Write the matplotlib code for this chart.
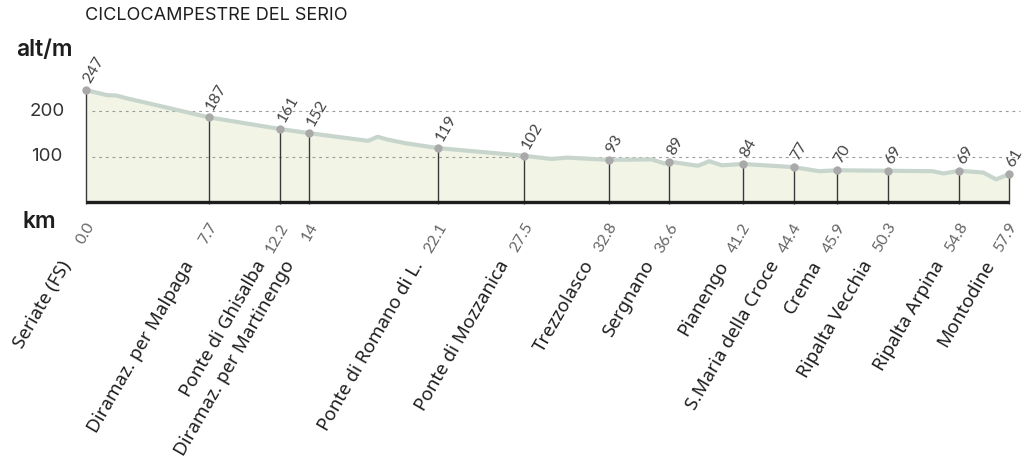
import matplotlib
matplotlib.use("Agg")
import matplotlib.pyplot as plt

# stops along the route
stop_name = ["Seriate (FS)", "Diramaz. per Malpaga", "Ponte di Ghisalba",
             "Diramaz. per Martinengo", "Ponte di Romano di L.", "Ponte di Mozzanica",
             "Trezzolasco", "Sergnano", "Pianengo", "S.Maria della Croce", "Crema",
             "Ripalta Vecchia", "Ripalta Arpina", "Montodine"]
stop_km_label = ["0.0", "7.7", "12.2", "14", "22.1", "27.5", "32.8", "36.6",
                 "41.2", "44.4", "45.9", "50.3", "54.8", "57.9"]
stop_km = [0, 7.7, 12.2, 14, 22.1, 27.5, 32.8, 36.6, 41.2, 44.4, 47.1, 50.3, 54.8, 57.9]
stop_alt = [247, 187, 161, 152, 119, 102, 93, 89, 84, 77, 70, 69, 69, 61]

# elevation profile
prof_km = [0, 1.3, 1.9, 2.55, 7.7, 12.2, 14.0, 17.7, 18.3, 18.9, 20.0, 22.1,
           27.5, 29.2, 30.2, 32.8, 35.5, 36.3, 36.6, 38.4, 39.1, 39.9, 41.2,
           44.4, 46.0, 47.1, 50.3, 53.1, 53.8, 54.8, 56.3, 57.1, 57.6, 57.9]
prof_alt = [247, 236, 235, 229, 187, 161, 152, 135, 144, 138, 130, 119,
            102, 95, 98, 93, 94, 85, 89, 80, 90, 81, 84,
            77, 68, 70, 69, 68, 63, 69, 65, 50, 57, 61]

grid_vals = [100, 200]

fig = plt.figure(figsize=(10.24, 4.61), dpi=100)
ax = fig.add_axes([0, 0, 1, 1])
ax.set_xlim(-5.395, 58.85)
ax.set_ylim(-571.7, 445.9)
ax.axis("off")

ax.fill_between(prof_km, prof_alt, 0, color="#f2f5e6", lw=0, zorder=1)
ax.hlines(grid_vals, 0.4, 58.6, colors="#9a9a9a", linestyles=(0, (2.5, 3.5)), lw=0.8, zorder=2)
ax.plot(prof_km, prof_alt, color="#c8d5cd", lw=3, solid_capstyle="round", zorder=3)
ax.vlines(stop_km, -4, stop_alt, colors="#3a3a3a", lw=1.0, zorder=4)
ax.plot([0, stop_km[-1]], [0, 0], color="#1e1e1e", lw=2.4, solid_capstyle="butt", zorder=5)
ax.plot(stop_km, stop_alt, "o", color="#a9a9a9", ms=6, mec="none", zorder=6)

num_font = dict(family="Lato", fontweight="normal", fontsize=11.5)
for x, a, lab, name in zip(stop_km, stop_alt, stop_km_label, stop_name):
    ax.annotate(str(a), (x, a), xytext=(1, 8), textcoords="offset pixels",
                rotation=60, rotation_mode="anchor", ha="left", va="center",
                color="#444444", **num_font)
    ax.annotate(lab, (x, 0), xytext=(5, -22), textcoords="offset pixels",
                rotation=60, rotation_mode="anchor", ha="right", va="center",
                color="#666666", **num_font)
    ax.annotate(name, (x, 0), xytext=(-19, -60), textcoords="offset pixels",
                rotation=60, rotation_mode="anchor", ha="right", va="center",
                fontsize=13.5, family="Noto Sans", fontstyle="normal", color="#1e1e1e")

for g in grid_vals:
    ax.annotate(str(g), (0, g), xytext=(-39, 0), textcoords="offset pixels",
                ha="center", va="center", fontsize=13.5, family="Inter", color="#333333")

fig.text(16 / 1024, 1 - 50 / 461, "alt/m", ha="left", va="center",
         fontsize=16.5, family="Inter", fontweight="semibold", color="#1e1e1e")
fig.text(22 / 1024, 1 - 222 / 461, "km", ha="left", va="center",
         fontsize=16.5, family="Inter", fontweight="semibold", color="#1e1e1e")
fig.text(85 / 1024, 1 - 15 / 461, "CICLOCAMPESTRE DEL SERIO", ha="left", va="center",
         fontsize=13, family="Inter", color="#1e1e1e")

fig.savefig("out.png", dpi=100, facecolor="white")
